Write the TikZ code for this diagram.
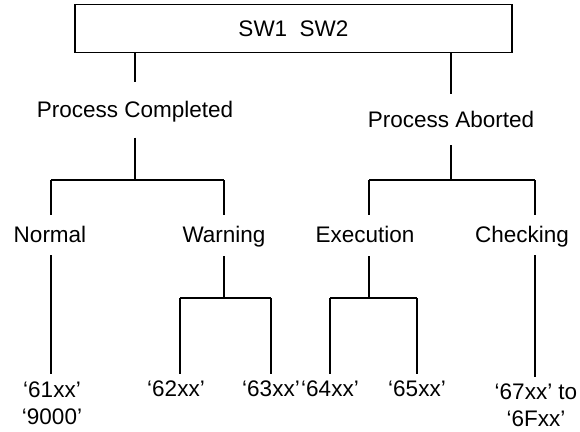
\documentclass[tikz,border=0pt]{standalone}
\usepackage{fontspec}
\setmainfont{Liberation Sans}
\begin{document}
\begin{tikzpicture}[x=1pt,y=-1pt,
  every node/.style={font=\fontsize{22.5pt}{27pt}\selectfont, inner sep=0pt},
  conn/.style={line width=1.1pt, draw=black},
  boxst/.style={draw=black, line width=1.3pt, minimum width=437pt, minimum height=48pt},
  lbl/.style={anchor=base, text height=16.5pt, text depth=4.5pt},
  lbltwo/.style={anchor=north, align=center}]
\useasboundingbox (0,0) rectangle (580,431);

% nodes
\node[boxst] (top) at (293.5,28.5) {SW1\ \ SW2};
\node[lbl] (pc) at (135,117) {Process Completed};
\node[lbl] (pa) at (451,127) {Process Aborted};
\node[lbl] (nor) at (50,242.5) {Normal};
\node[lbl] (war) at (224,242.5) {Warning};
\node[lbl] (exe) at (365,242.5) {Execution};
\node[lbl] (chk) at (522,242.5) {Checking};
\node[lbltwo] (l61) at (52,382) {‘61xx’\\‘9000’};
\node[lbl] (l62) at (176,396.7) {‘62xx’};
\node[lbl] (l63) at (271,396.7) {‘63xx’};
\node[lbl] (l64) at (330,396.7) {‘64xx’};
\node[lbl] (l65) at (417,396.7) {‘65xx’};
\node[lbltwo] (l67) at (536,384) {‘67xx’ to\\‘6Fxx’};

% junction coordinates
\coordinate (cN) at (51,180);
\coordinate (cW) at (224,180);
\coordinate (cE) at (369,180);
\coordinate (cC) at (535,180);
\coordinate (s62) at (180,298);
\coordinate (s63) at (271,298);
\coordinate (s64) at (330,298);
\coordinate (s65) at (417,298);

% connectors: top box to the two process labels
\draw[conn, shorten >=18pt] (top.south -| pc) -- (pc.north);
\draw[conn, shorten >=16.5pt] (top.south -| pa) -- (pa.north);
% process labels down to their bars
\draw[conn, shorten <=16pt] (pc.south) -- (pc.south |- cN);
\draw[conn, shorten <=13.5pt] (pa.south) -- (pa.south |- cE);
% bars
\draw[conn] (cN) -- (cW);
\draw[conn] (cE) -- (cC);
% drops from bars to second-level labels
\draw[conn, shorten >=11pt] (cN) -- (cN |- nor.north);
\draw[conn, shorten >=11pt] (cW) -- (cW |- war.north);
\draw[conn, shorten >=11pt] (cE) -- (cE |- exe.north);
\draw[conn, shorten >=11pt] (cC) -- (cC |- chk.north);
% Normal and Checking straight down to their codes
\draw[conn, shorten <=8pt, shorten >=8.5pt] (nor.south -| cN) -- (l61.north -| cN);
\draw[conn, shorten <=8pt, shorten >=7.5pt] (chk.south -| cC) -- (l67.north -| cC);
% Warning and Execution to their sub-bars
\draw[conn, shorten <=9pt] (war.south -| cW) -- (cW |- s62);
\draw[conn, shorten <=9pt] (exe.south -| cE) -- (cE |- s64);
\draw[conn] (s62) -- (s63);
\draw[conn] (s64) -- (s65);
\draw[conn, shorten >=6pt] (s62) -- (s62 |- l62.north);
\draw[conn, shorten >=6pt] (s63) -- (s63 |- l63.north);
\draw[conn, shorten >=6pt] (s64) -- (s64 |- l64.north);
\draw[conn, shorten >=6pt] (s65) -- (s65 |- l65.north);
\end{tikzpicture}
\end{document}
